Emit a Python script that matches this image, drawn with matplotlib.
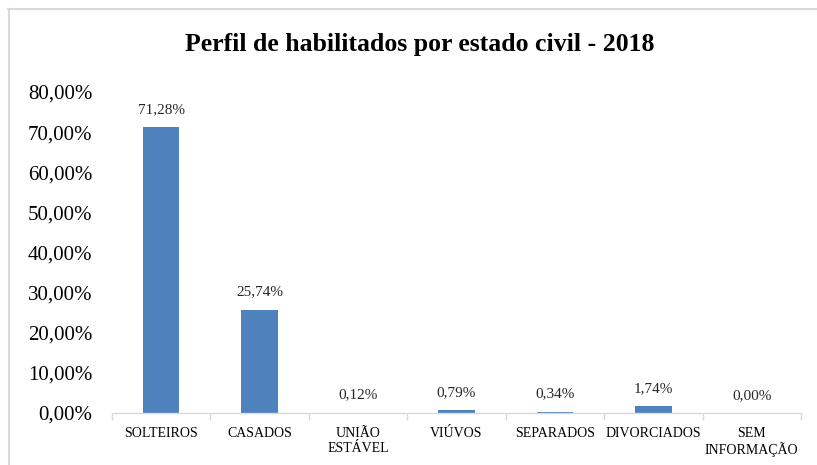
import matplotlib
matplotlib.use("Agg")
import matplotlib.pyplot as plt
from matplotlib.lines import Line2D
from matplotlib.ticker import FuncFormatter, FixedLocator
import numpy as np

categories = ["SOLTEIROS", "CASADOS", "UNIÃO\nESTÁVEL", "VIÚVOS", "SEPARADOS", "DIVORCIADOS", "SEM\nINFORMAÇÃO"]
values = [71.28, 25.74, 0.12, 0.79, 0.34, 1.74, 0.00]
title = "Perfil de habilitados por estado civil - 2018"

plt.rcParams['font.family'] = ['Liberation Serif', 'DejaVu Serif']

fig = plt.figure(figsize=(8.17, 4.65), dpi=100)
ax = fig.add_axes([112/817, 1-413/465, (801-112)/817, (413-92)/465])

x = np.arange(len(categories))
ax.bar(x, values, width=0.37, color="#4f81bd", zorder=2)
for xi, v in zip(x, values):
    ax.annotate(f"{v:.2f}%".replace(".", ","), (xi, v), xytext=(0, 8),
                textcoords="offset points", ha="center", va="bottom",
                fontsize=11, color="#262626")

ax.set_xlim(-0.5, len(categories) - 0.5)
ax.set_ylim(0, 80)
ax.set_yticks(np.arange(0, 81, 10))
ax.yaxis.set_major_formatter(FuncFormatter(lambda v, p: f"{v:.2f}%".replace(".", ",")))
ax.tick_params(axis="y", length=0, labelsize=15, pad=14, labelcolor="#000000")

ax.set_xticks(x)
ax.set_xticklabels(categories, fontsize=10, linespacing=1.2)
ax.xaxis.set_minor_locator(FixedLocator(np.arange(-0.5, len(categories), 1.0)))
ax.tick_params(axis="x", which="major", length=0, pad=10)
ax.tick_params(axis="x", which="minor", length=5, color="#d9d9d9", width=1)

for s in ["top", "right", "left"]:
    ax.spines[s].set_visible(False)
ax.spines["bottom"].set_color("#d9d9d9")
ax.spines["bottom"].set_linewidth(1)
ax.spines["bottom"].set_zorder(3)

fig.text(420/817, 1-45/465, title, ha="center", va="center", fontsize=18.5, fontweight="bold")

# chart frame (top and left edges visible)
fig.add_artist(Line2D([8/817, 1], [1-9.5/465, 1-9.5/465], transform=fig.transFigure, color="#d9d9d9", lw=1.5))
fig.add_artist(Line2D([8.5/817, 8.5/817], [0, 1-9.5/465], transform=fig.transFigure, color="#d9d9d9", lw=1.5))

fig.savefig("out.png", dpi=100)
